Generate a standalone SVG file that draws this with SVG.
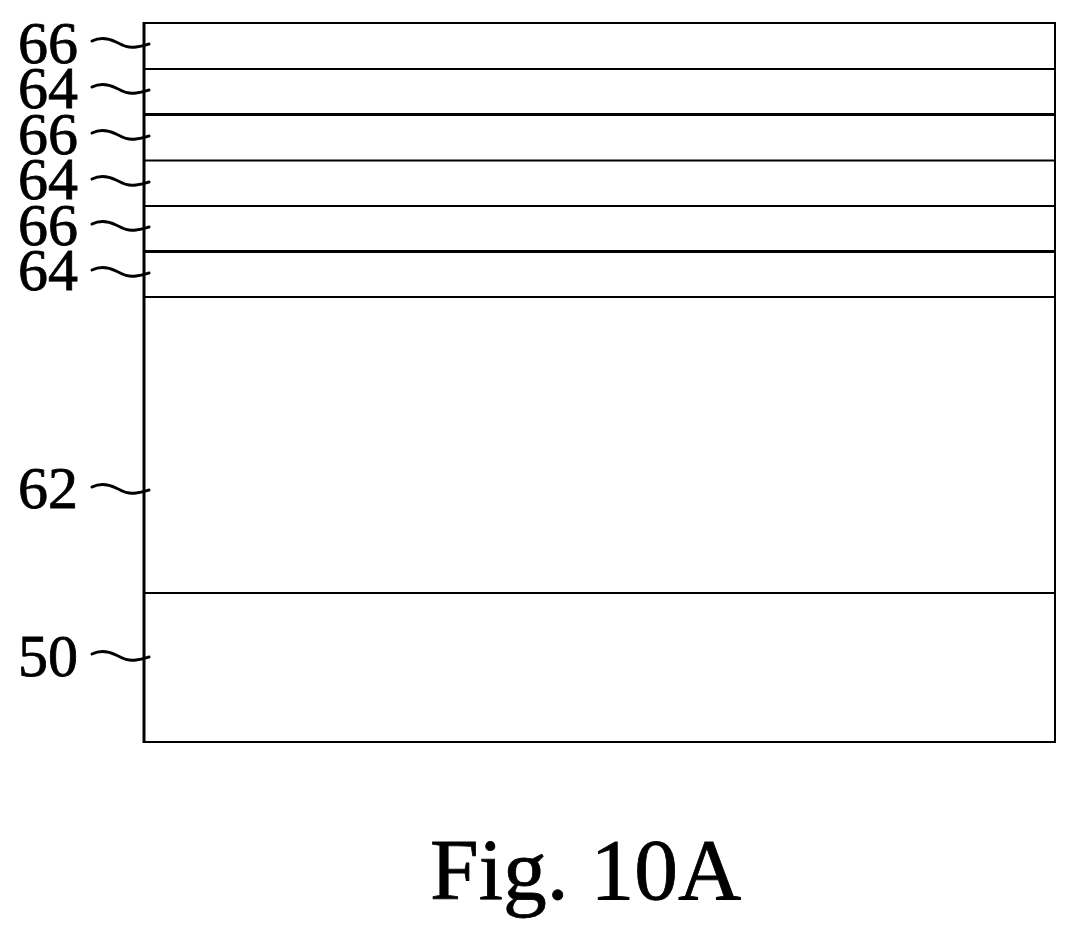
<svg xmlns="http://www.w3.org/2000/svg" width="1076" height="939" viewBox="0 0 1076 939">
<style>
.l{fill:none;stroke:#000;stroke-width:2}
.b{fill:none;stroke:#000;stroke-width:3}
.t{font-family:"Liberation Serif","Times New Roman",serif;fill:#000;font-size:60px;stroke:#000;stroke-width:.8}
.f{font-family:"Liberation Serif","Times New Roman",serif;fill:#000;font-size:87.500px;stroke:#000;stroke-width:.8}
.c{fill:none;stroke:#000;stroke-width:3;stroke-linecap:round}
</style>
<defs><path id="w" class="c" d="M92 0C100-4 108-3 116 1S128 7 136 6S145 4 149 3"/></defs>
<rect width="1076" height="939" fill="#fff"/>
<g id="layers">
<rect class="l" x="144" y="23" width="911" height="719"/>
<path class="b" d="M144 22V743"/>
<path class="l" d="M144 69H1055M144 160.500H1055M144 206H1055M144 297H1055M144 593H1055"/>
<path class="b" d="M144 114.500H1055M144 251.500H1055"/>
</g>
<g id="connectors">
<use href="#w" y="41"/><use href="#w" y="87"/><use href="#w" y="133"/><use href="#w" y="179"/><use href="#w" y="224"/><use href="#w" y="270"/><use href="#w" y="487"/><use href="#w" y="654"/>
</g>
<g id="labels">
<text class="t" x="18" y="63">66</text>
<text class="t" x="18" y="108">64</text>
<text class="t" x="18" y="154">66</text>
<text class="t" x="18" y="199">64</text>
<text class="t" x="18" y="245">66</text>
<text class="t" x="18" y="290">64</text>
<text class="t" x="18" y="508">62</text>
<text class="t" x="18" y="676">50</text>
<text class="f" x="430" y="899">Fig. 10A</text>
</g>
</svg>
